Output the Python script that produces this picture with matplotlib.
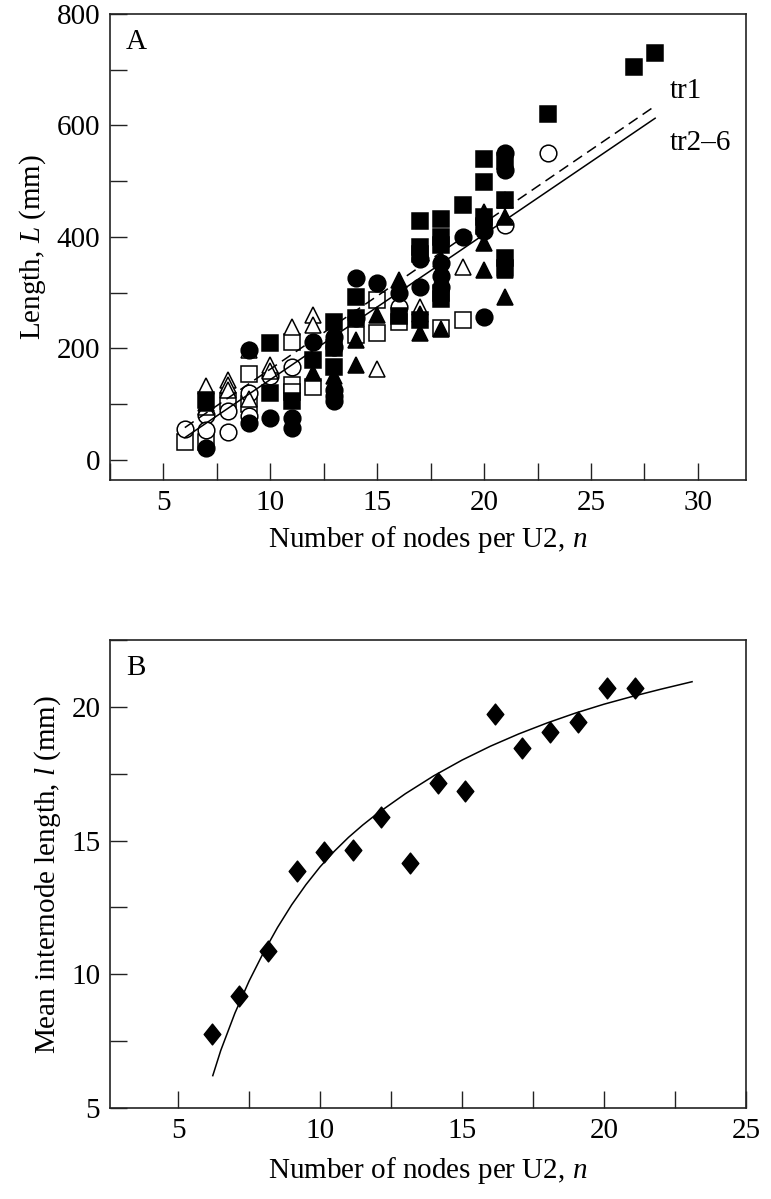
import matplotlib
matplotlib.use("Agg")
import matplotlib.pyplot as plt
from matplotlib.ticker import MultipleLocator
from matplotlib.path import Path

plt.rcParams['font.family'] = ['Liberation Serif', 'DejaVu Serif']
plt.rcParams['mathtext.fontset'] = 'custom'
plt.rcParams['mathtext.it'] = 'Liberation Serif:italic'
plt.rcParams['mathtext.rm'] = 'Liberation Serif'

# ---------------- Panel A data (n, L) ----------------
fsq_n = [7, 10, 10, 11, 12, 13, 13, 13, 14, 14, 16, 17, 17, 17, 17, 18, 18, 18, 18, 18, 19, 20, 20, 20, 20, 21, 21, 21, 21, 23, 27, 28]
fsq_L = [107, 210, 120, 105, 180, 248, 167, 200, 293, 255, 258, 428, 382, 370, 251, 433, 400, 385, 300, 288, 457, 539, 499, 436, 420, 536, 466, 362, 345, 620, 705, 730]

fci_n = [7, 9, 9, 10, 11, 11, 12, 13, 13, 13, 13, 13, 14, 15, 16, 17, 17, 18, 18, 18, 19, 20, 20, 21, 21]
fci_L = [22, 66, 197, 75, 75, 57, 212, 221, 203, 126, 114, 105, 326, 317, 300, 360, 310, 353, 330, 310, 400, 257, 410, 550, 520]

ftr_n = [7, 12, 13, 14, 14, 15, 16, 17, 17, 18, 18, 20, 20, 20, 21, 21, 21]
ftr_L = [102, 156, 150, 215, 170, 260, 322, 227, 262, 360, 235, 390, 341, 445, 436, 341, 293]

otr_n = [7, 7, 8, 8, 8, 9, 9, 10, 10, 11, 12, 12, 15, 17, 19, 21]
otr_L = [133, 95, 143, 135, 126, 197, 110, 170, 160, 239, 260, 242, 164, 275, 347, 466]

osq_n = [6, 7, 8, 9, 9, 11, 11, 11, 12, 14, 15, 15, 16, 18, 19]
osq_L = [32, 32, 105, 154, 100, 212, 135, 122, 131, 224, 287, 228, 248, 236, 251]

oci_n = [6, 7, 7, 8, 8, 9, 9, 10, 11, 14, 16, 21, 23]
oci_L = [55, 81, 54, 88, 51, 120, 78, 150, 167, 255, 275, 421, 550]

# regression lines (end points)
tr1_n = [6, 28]
tr1_L = [58, 635]
tr26_n = [6, 28]
tr26_L = [40, 613]

# ---------------- Panel B data (n, l) ----------------
b_n = [6.2, 7.15, 8.15, 9.2, 10.15, 11.15, 12.15, 13.15, 14.15, 15.1, 16.15, 17.1, 18.1, 19.1, 20.1, 21.1]
b_l = [7.78, 9.18, 10.86, 13.87, 14.56, 14.65, 15.9, 14.15, 17.15, 16.84, 19.74, 18.46, 19.05, 19.43, 20.69, 20.69]

# fitted curve, points
curve_n = [6.22, 6.5, 7.0, 7.5, 8.0, 8.5, 9.0, 9.5, 10.0, 10.5, 11.0, 11.5, 12.0, 13.0, 14.0, 15.0, 16.0, 17.0, 18.0, 19.0, 20.0, 21.0, 22.0, 23.1]
curve_l = [6.21, 7.15, 8.55, 9.75, 10.8, 11.75, 12.6, 13.35, 14.02, 14.6, 15.12, 15.58, 16.0, 16.75, 17.42, 18.01, 18.53, 18.99, 19.4, 19.77, 20.1, 20.39, 20.66, 20.94]

# ---------------- Figure ----------------
W, H = 771, 1199
fig = plt.figure(figsize=(W / 100, H / 100), dpi=100)

def frac(l, t, r, b):
    return [l / W, 1 - b / H, (r - l) / W, (b - t) / H]

axA = fig.add_axes(frac(110, 14, 746, 480))
axB = fig.add_axes(frac(110, 640, 746, 1108))

FS = 21
ms = 12.0
col = 'black'

def style(ax):
    for s in ax.spines.values():
        s.set_linewidth(1.2)
        s.set_color('#222222')
    ax.tick_params(axis='both', which='both', direction='in', length=12, width=1.0,
                   labelsize=FS, top=False, right=False, pad=7, color='#222222')

# Panel A
kw = dict(linestyle='none', markersize=ms, markeredgewidth=1.1)
axA.plot(osq_n, osq_L, marker='s', markerfacecolor='white', markeredgecolor=col, **kw)
axA.plot(oci_n, oci_L, marker='o', markerfacecolor='white', markeredgecolor=col, **kw)
axA.plot(otr_n, otr_L, marker='^', markerfacecolor='white', markeredgecolor=col, **kw)
axA.plot(fci_n, fci_L, marker='o', markerfacecolor=col, markeredgecolor=col, **kw)
axA.plot(fsq_n, fsq_L, marker='s', markerfacecolor=col, markeredgecolor=col, **kw)
axA.plot(ftr_n, ftr_L, marker='^', markerfacecolor=col, markeredgecolor=col, **kw)

axA.plot(tr1_n, tr1_L, color=col, linewidth=1.1, dashes=(7, 4))
axA.plot(tr26_n, tr26_L, color=col, linewidth=1.1)

axA.text(28.7, 662, 'tr1', fontsize=FS, va='center', ha='left')
axA.text(28.7, 569, 'tr2–6', fontsize=FS, va='center', ha='left')
axA.text(0.025, 0.94, 'A', transform=axA.transAxes, fontsize=FS, va='center', ha='left')

axA.set_xlim(2.5, 32.25)
axA.set_ylim(-36, 800)
axA.xaxis.set_major_locator(MultipleLocator(5))
axA.xaxis.set_minor_locator(MultipleLocator(2.5))
axA.yaxis.set_major_locator(MultipleLocator(200))
axA.yaxis.set_minor_locator(MultipleLocator(100))
axA.set_xlabel('Number of nodes per U2, $n$', fontsize=FS, labelpad=6)
axA.set_ylabel('Length, $L$ (mm)', fontsize=FS, labelpad=6)
style(axA)

# Panel B
diamond = Path([(0, 1), (0.8, 0), (0, -1), (-0.8, 0), (0, 1)],
               [Path.MOVETO, Path.LINETO, Path.LINETO, Path.LINETO, Path.CLOSEPOLY])
axB.plot(b_n, b_l, linestyle='none', marker=diamond, markersize=15,
         markerfacecolor=col, markeredgecolor=col)
axB.plot(curve_n, curve_l, color=col, linewidth=1.1)
axB.text(0.025, 0.94, 'B', transform=axB.transAxes, fontsize=FS, va='center', ha='left')

axB.set_xlim(2.6, 25)
axB.set_ylim(5, 22.5)
axB.xaxis.set_major_locator(MultipleLocator(5))
axB.xaxis.set_minor_locator(MultipleLocator(2.5))
axB.yaxis.set_major_locator(MultipleLocator(5))
axB.yaxis.set_minor_locator(MultipleLocator(2.5))
axB.set_xlabel('Number of nodes per U2, $n$', fontsize=FS, labelpad=8)
axB.set_ylabel('Mean internode length, $l$ (mm)', fontsize=FS, labelpad=6)
style(axB)

fig.savefig('out.png', dpi=100)
